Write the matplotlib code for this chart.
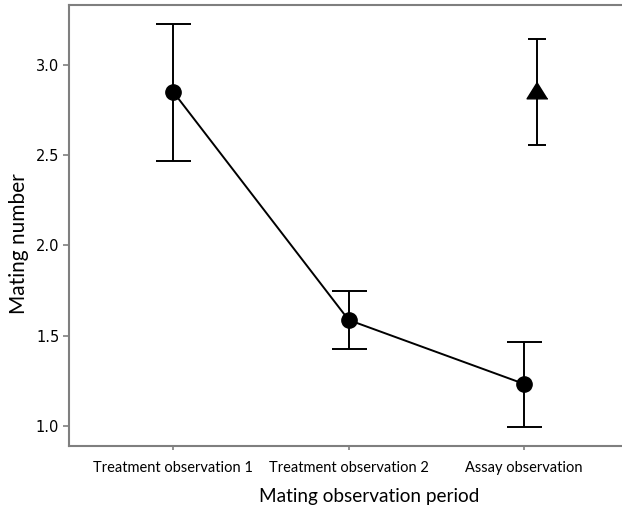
import matplotlib
matplotlib.use("Agg")
import matplotlib.pyplot as plt

categories = ["Treatment observation 1", "Treatment observation 2", "Assay observation"]
treat_mean = [2.85, 1.587, 1.233]
treat_lo = [2.468, 1.424, 0.996]
treat_hi = [3.225, 1.746, 1.463]
assay_mean = [2.86]
assay_lo = [2.555]
assay_hi = [3.144]

fig = plt.figure(figsize=(6.22, 5.09), dpi=100)
ax = fig.add_axes([69/622, 1-446/509, (621-69)/622, (446-5)/509])

x = [1, 2, 3]
yerr = [[m - l for m, l in zip(treat_mean, treat_lo)], [h - m for m, h in zip(treat_mean, treat_hi)]]
ax.errorbar(x, treat_mean, yerr=yerr, fmt='-o', color='black', ms=11, lw=1.4,
            elinewidth=1.4, capsize=12.6, capthick=1.4)
xa = [3.072]
yerr2 = [[m - l for m, l in zip(assay_mean, assay_lo)], [h - m for m, h in zip(assay_mean, assay_hi)]]
tri = [(0, 0.8), (-1, -0.8), (1, -0.8)]
ax.errorbar(xa, assay_mean, yerr=yerr2, fmt='none', ecolor='black',
            elinewidth=1.4, capsize=6.5, capthick=1.4)
ax.plot(xa, assay_mean, linestyle='none', marker=tri, ms=15, color='black')

ax.set_xlim(0.405, 3.553)
ax.set_ylim(0.889, 3.332)
ax.set_xticks(x)
ax.set_xticklabels(categories, fontsize=10.5, family='Lato')
ax.set_yticks([1.0, 1.5, 2.0, 2.5, 3.0])
ax.set_yticklabels(["1.0", "1.5", "2.0", "2.5", "3.0"], fontsize=10.5)
ax.set_xlabel("Mating observation period", fontsize=13.7, family='Lato')
ax.set_ylabel("Mating number", fontsize=15, family='Lato')
ax.xaxis.set_label_coords(0.543, -0.095)
ax.yaxis.set_label_coords(-0.072, 0.458)
for s in ['left', 'bottom', 'top']:
    ax.spines[s].set_color('#7f7f7f')
    ax.spines[s].set_linewidth(1.5)
ax.spines['right'].set_visible(False)
ax.tick_params(axis='y', length=4, color='#7f7f7f', width=1.2, pad=3)
ax.tick_params(axis='x', length=3, color='#7f7f7f', width=1.2, pad=8)

fig.savefig("out.png", dpi=100)
